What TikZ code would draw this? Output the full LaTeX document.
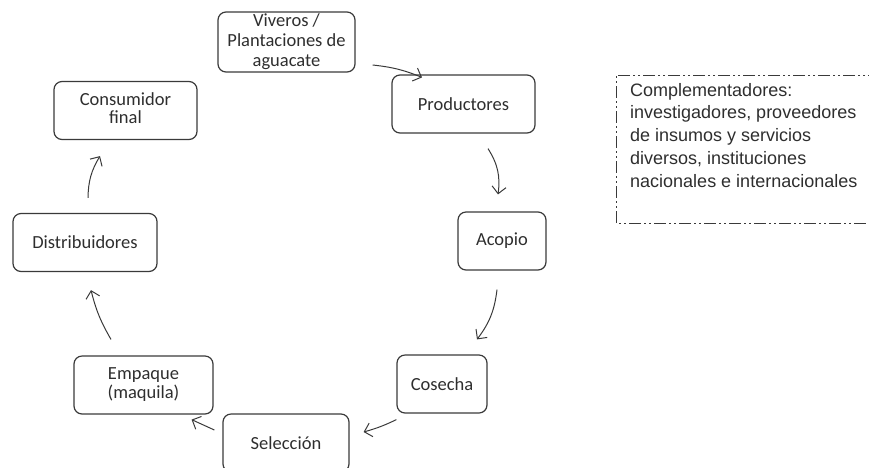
\documentclass[tikz,border=0pt]{standalone}
\usepackage{fontspec}
\setmainfont{Carlito}
\newfontfamily\arialfont{Liberation Sans}
\usepackage{xcolor}
\usepackage{tikz}
\usetikzlibrary{calc, arrows.meta}
\definecolor{linegray}{HTML}{3A3A3A}
\definecolor{textgray}{HTML}{2E2E2E}
\tikzset{every node/.append style={font=\fontsize{18.5}{18}\selectfont, text=textgray}}
\newcommand{\lines}[1]{\begin{tabular}{@{}c@{}}#1\end{tabular}}

\begin{document}
\begin{tikzpicture}[x=1pt, y=1pt,
    stage/.style={draw=linegray, line width=1.2pt, rounded corners=8pt,
        inner sep=0pt, minimum width=#1, minimum height=58},
    flow/.style={draw=linegray, line width=1pt, -{Straight Barb[length=7pt, width=14pt]}}]
    \useasboundingbox (0,0) rectangle (869,-467);
    \clip (0,0) rectangle (869,-467);
    \node[stage=137, font=\fontsize{18.5}{20}\selectfont] (viv) at (286.5,-42) {\lines{Viveros /\\Plantaciones de\\aguacate}};
    \node[stage=143] (prod) at (463.5,-104) {Productores};
    \node[stage=88] (acop) at (502,-241) {Acopio};
    \node[stage=90] (cos) at (442,-384) {Cosecha};
    \node[stage=126] (sel) at (286,-443) {Selección};
    \node[stage=139] (emp) at (143.5,-385) {\lines{Empaque\\(maquila)}};
    \node[stage=144] (dist) at (85,-242.5) {Distribuidores};
    \node[stage=143] (cons) at (125.5,-110.5) {\lines{Consumidor\\final}};
    \draw[flow] ($(viv.east)+(17,-23)$) to[bend left=8] ($(prod.north)+(-41.5,-3)$);
    \draw[flow] ($(prod.south)+(24.5,-15)$) to[bend left=20] ($(acop.north)+(-4,17)$);
    \draw[flow] ($(acop.south)+(-5,-19)$) to[bend left=15] ($(cos.north)+(35,15)$);
    \draw[flow] ($(cos.south west)+(0,-6)$) to[bend left=5] ($(sel.east)+(14,11)$);
    \draw[flow] ($(sel.west)+(-8,13)$) -- ($(emp.south east)+(-22,-5)$);
    \draw[flow] ($(emp.north)+(-32.5,16)$) to[bend left=8] ($(dist.south)+(6,-18)$);
    \draw[flow] ($(dist.north)+(3,15)$) to[bend left=15] ($(cons.south)+(-25.5,-16)$);
    \draw[linegray, line width=0.9pt, dash pattern=on 12pt off 3pt on 2pt off 3pt on 2pt off 3pt] (880,-75) -- (616,-75) -- (616,-223) -- (880,-223);
    \node[anchor=north west, align=left, inner sep=0pt, font=\arialfont\fontsize{18}{22.7}\selectfont] (comp) at (630,-83) {Complementadores:\\investigadores, proveedores\\de insumos y servicios\\diversos, instituciones\\nacionales e internacionales};
\end{tikzpicture}
\end{document}
